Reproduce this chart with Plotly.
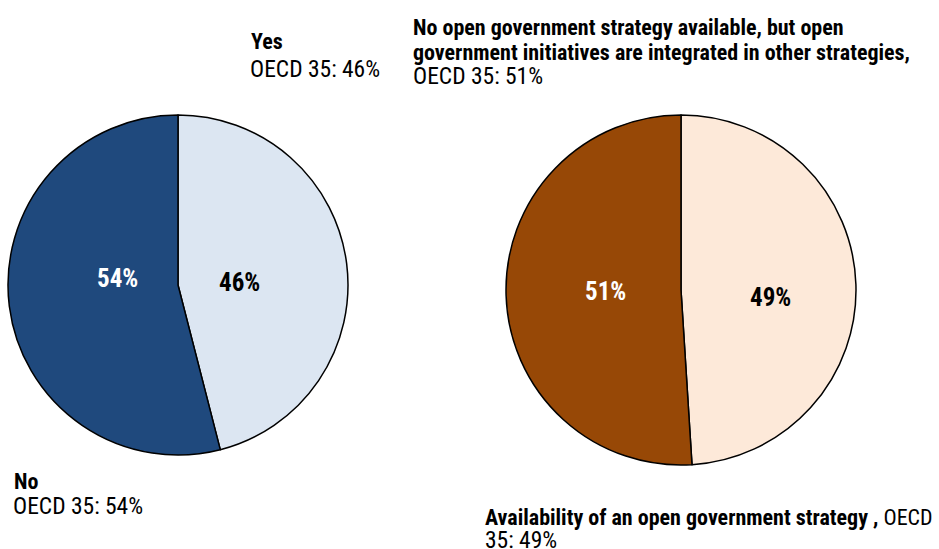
import plotly.graph_objects as go

W, H = 939, 549

# Left pie: is there an open government strategy?
left_labels = ["Yes", "No"]
left_values = [46, 54]
left_colors = ["#DCE6F2", "#1F497D"]
left_text_colors = ["black", "white"]

# Right pie: type of open government strategy
right_labels = [
    "Availability of an open government strategy",
    "No open government strategy available, but open government initiatives are integrated in other strategies",
]
right_values = [49, 51]
right_colors = ["#FDE9D9", "#974806"]
right_text_colors = ["black", "white"]

FONT = "Liberation Sans Narrow, Arial Narrow, Roboto Condensed, Liberation Sans, Arial, sans-serif"
BOLD_SIZE = 22
REG_SIZE = 23.5
PCT_SIZE = 25


def px_domain(cx, cy, r):
    return dict(x=[(cx - r) / W, (cx + r) / W], y=[1 - (cy + r) / H, 1 - (cy - r) / H])


fig = go.Figure()

pies = [
    (left_labels, left_values, left_colors, px_domain(178, 285, 170)),
    (right_labels, right_values, right_colors, px_domain(681, 290, 175)),
]
for labels, values, colors, dom in pies:
    fig.add_trace(go.Pie(
        labels=labels,
        values=values,
        sort=False,
        direction="clockwise",
        rotation=0,
        domain=dom,
        marker=dict(colors=colors, line=dict(color="black", width=1.5)),
        textinfo="none",
        hoverinfo="label+percent",
        showlegend=False,
    ))


def text_at(x, y, html, size, color="black", anchor="left"):
    fig.add_annotation(
        x=x / W, y=1 - y / H, xref="paper", yref="paper",
        xanchor=anchor, yanchor="middle", align="left", showarrow=False,
        text=html, font=dict(family=FONT, size=size, color=color),
    )


# Percentages inside the slices
for v, c, pos in zip(left_values, left_text_colors, [(239, 282), (117, 278)]):
    text_at(pos[0], pos[1], f"<b>{v}%</b>", PCT_SIZE, c, anchor="center")
for v, c, pos in zip(right_values, right_text_colors, [(770, 297), (605, 291)]):
    text_at(pos[0], pos[1], f"<b>{v}%</b>", PCT_SIZE, c, anchor="center")

# Category labels with OECD 35 shares
text_at(249, 42, f"<b>{left_labels[0]}</b>", BOLD_SIZE)
text_at(248, 69, f"OECD 35: {left_values[0]}%", REG_SIZE)

text_at(12, 481, f"<b>{left_labels[1]}</b>", BOLD_SIZE)
text_at(11, 506, f"OECD 35: {left_values[1]}%", REG_SIZE)

words = right_labels[1].split(" ")
text_at(411, 27, "<b>" + " ".join(words[:7]) + "</b>", BOLD_SIZE)
text_at(411, 52, "<b>" + " ".join(words[7:]) + ",</b>", BOLD_SIZE)
text_at(411, 76, f"OECD 35: {right_values[1]}%", REG_SIZE)

text_at(483, 517, f"<b>{right_labels[0]} ,</b> OECD", BOLD_SIZE)
text_at(483, 540, f"35: {right_values[0]}%", REG_SIZE)

fig.update_layout(
    width=W, height=H,
    margin=dict(l=0, r=0, t=0, b=0),
    paper_bgcolor="white",
    plot_bgcolor="white",
)

fig.write_html("out.html")
